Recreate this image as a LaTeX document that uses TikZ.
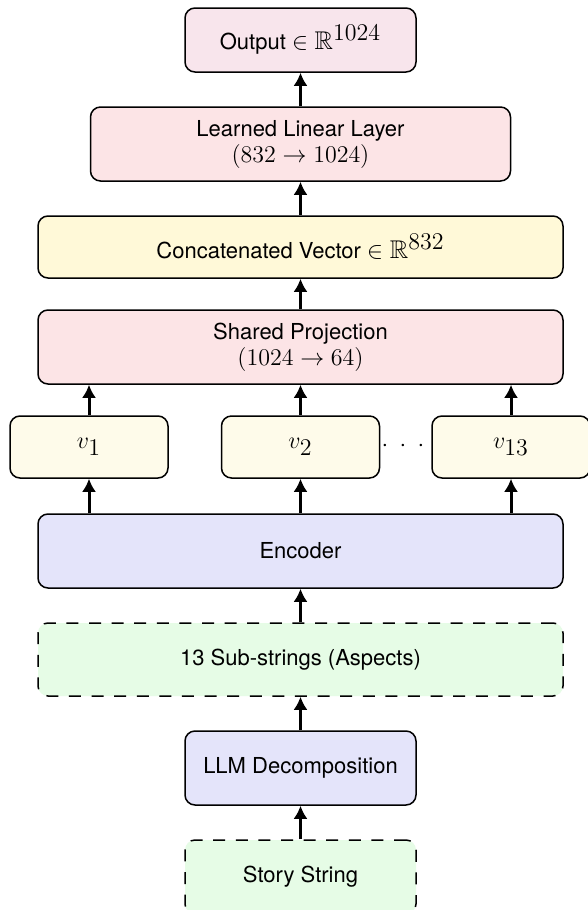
\documentclass[tikz,border=0pt]{standalone}
\usepackage{amssymb}
\usepackage[no-math]{fontspec}
\setmainfont{TeX Gyre Heros}
\usetikzlibrary{arrows.meta}
\definecolor{outc}{HTML}{F8E5EC}
\definecolor{redc}{HTML}{FCE4E6}
\definecolor{catc}{HTML}{FFF9D8}
\definecolor{vc}{HTML}{FEFBEA}
\definecolor{bluec}{HTML}{E4E4FA}
\definecolor{greenc}{HTML}{E6FCE6}
\newcommand{\lgmath}[1]{{\fontsize{12.8}{13}\selectfont$#1$}}
\tikzset{
  box/.style={draw=black, line width=0.75pt, rounded corners=5pt, inner sep=0pt, align=center,
    font=\fontsize{11}{13}\selectfont},
  dashbox/.style={box, dash pattern=on 6pt off 5.3pt},
  arr/.style={line width=1.5pt, -{Latex[length=6.5pt,width=7pt]}},
}
\begin{document}
\begin{tikzpicture}[x=0.5pt,y=-0.5pt]
\clip (0,0) rectangle (588,910);
\fill[white] (0,0) rectangle (588,910);
\node[box, fill=outc, minimum width=115.5pt, minimum height=32pt] (out) at (300.5,40) {Output \lgmath{\in \mathbb{R}^{\textstyle 1024}}};
\node[box, fill=redc, minimum width=210pt, minimum height=37pt] (lin) at (300.5,144) {Learned Linear Layer\\\lgmath{(832 \rightarrow 1024)}};
\node[box, fill=catc, minimum width=262.5pt, minimum height=31pt] (cat) at (300.5,247) {Concatenated Vector \lgmath{\in \mathbb{R}^{\textstyle 832}}};
\node[box, fill=redc, minimum width=262.5pt, minimum height=37pt] (proj) at (300.5,347) {Shared Projection\\\lgmath{(1024 \rightarrow 64)}};
\node[box, fill=vc, minimum width=79pt, minimum height=31pt] (v1) at (89,447) {\lgmath{v_{\textstyle 1}}};
\node[box, fill=vc, minimum width=79pt, minimum height=31pt] (v2) at (300.5,447) {\lgmath{v_{\textstyle 2}}};
\node[box, fill=vc, minimum width=79pt, minimum height=31pt] (v13) at (511,447) {\lgmath{v_{\textstyle 13}}};
\node[inner sep=0pt] (dots) at (403,446) {\lgmath{{\cdot}\hspace{5.7pt}{\cdot}\hspace{5.7pt}{\cdot}}};
\node[box, fill=bluec, minimum width=262.5pt, minimum height=37pt] (enc) at (300.5,551) {Encoder};
\node[dashbox, fill=greenc, minimum width=262.5pt, minimum height=36.5pt] (sub) at (300.5,659.5) {13 Sub-strings (Aspects)};
\node[box, fill=bluec, minimum width=115.5pt, minimum height=37pt] (llm) at (300.5,768) {LLM Decomposition};
\node[dashbox, fill=greenc, minimum width=115.5pt, minimum height=37pt] (story) at (300.5,877) {Story String};
\draw[arr] (story) -- (llm);
\draw[arr] (llm) -- (sub);
\draw[arr] (sub) -- (enc);
\draw[arr] (enc.north -| v1) -- (v1);
\draw[arr] (enc.north -| v2) -- (v2);
\draw[arr] (enc.north -| v13) -- (v13);
\draw[arr] (v1) -- (v1 |- proj.south);
\draw[arr] (v2) -- (v2 |- proj.south);
\draw[arr] (v13) -- (v13 |- proj.south);
\draw[arr] (proj) -- (cat);
\draw[arr] (cat) -- (lin);
\draw[arr] (lin) -- (out);
\end{tikzpicture}
\end{document}
